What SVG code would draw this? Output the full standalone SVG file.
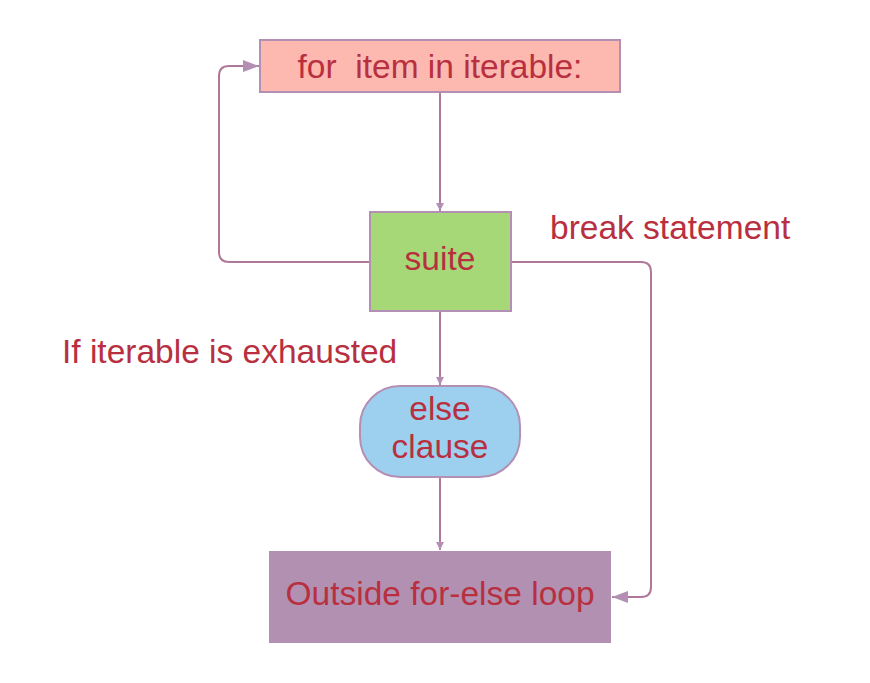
<svg xmlns="http://www.w3.org/2000/svg" width="870" height="683" viewBox="0 0 870 683">
<style>
text{font-family:"Liberation Sans",Arial,sans-serif;fill:#b8303f;font-size:33.5px;white-space:pre}
.c{text-anchor:middle}
.line{fill:none;stroke:#b07898;stroke-width:2}
</style>
<defs>
<marker id="ah" viewBox="0 0 10 10" refX="10" refY="5" markerWidth="8" markerHeight="8" markerUnits="userSpaceOnUse" orient="auto">
<path d="M0,0 L10,5 L0,10 z" fill="#b48fb4"/>
</marker>
<marker id="ahb" viewBox="0 0 10 10" refX="10" refY="5" markerWidth="16" markerHeight="12" markerUnits="userSpaceOnUse" orient="auto" preserveAspectRatio="none">
<path d="M0,0 L10,5 L0,10 z" fill="#b48fb4"/>
</marker>
</defs>
<rect width="870" height="683" fill="#fff"/>
<g id="connectors">
<path class="line" d="M440,92 V211" marker-end="url(#ah)"/>
<path class="line" d="M440,311 V385" marker-end="url(#ah)"/>
<path class="line" d="M440,477 V550" marker-end="url(#ah)"/>
<path class="line" d="M370,262 H229 Q219,262 219,252 V76 Q219,66 229,66 H259" marker-end="url(#ahb)"/>
<path class="line" d="M511,262 H641 Q651,262 651,272 V587 Q651,597 641,597 H612" marker-end="url(#ahb)"/>
</g>
<g id="for">
<rect x="260" y="40" width="360" height="52" fill="#fdb8b0" stroke="#b48fb4" stroke-width="2"/>
<text class="c" x="440" y="78" xml:space="preserve">for  item in iterable:</text>
</g>
<g id="suite">
<rect x="370" y="212" width="141" height="99" fill="#a6d878" stroke="#b48fb4" stroke-width="2"/>
<text class="c" x="440" y="270">suite</text>
</g>
<g id="else">
<rect x="360" y="386" width="160" height="91" rx="40" ry="40" fill="#9dd0ef" stroke="#b48fb4" stroke-width="2"/>
<text class="c" x="440" y="420">else</text>
<text class="c" x="440" y="458">clause</text>
</g>
<g id="outside">
<rect x="269" y="551" width="342" height="92" fill="#b290b2"/>
<text class="c" x="440" y="605">Outside for-else loop</text>
</g>
<g id="labels">
<text x="550" y="239">break statement</text>
<text x="62" y="363">If iterable is exhausted</text>
</g>
</svg>
